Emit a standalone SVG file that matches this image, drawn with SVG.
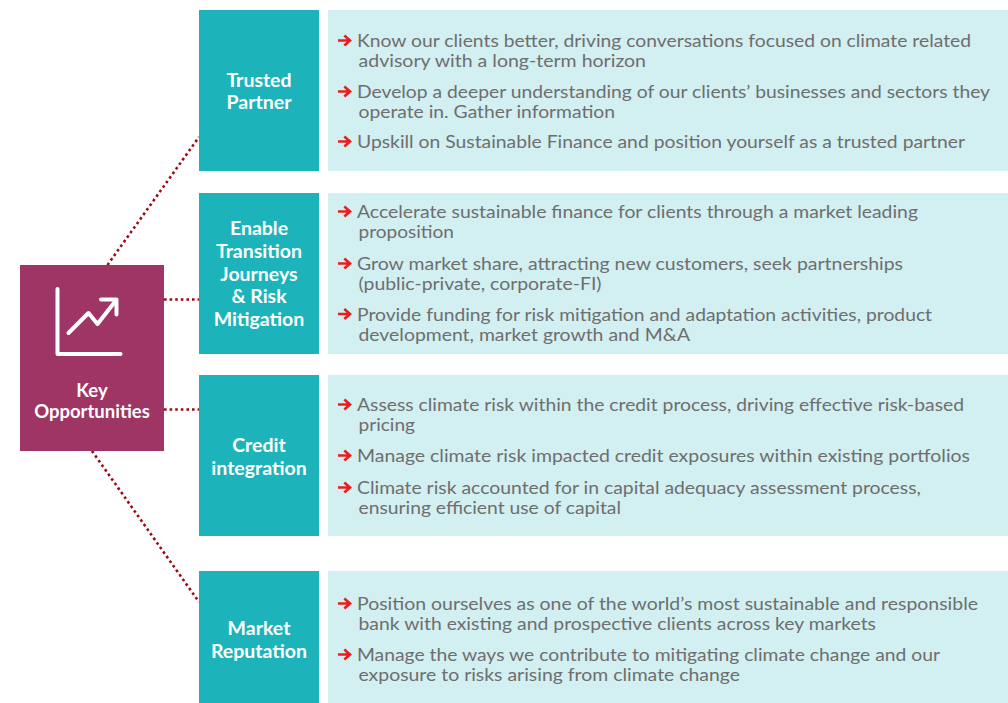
<svg xmlns="http://www.w3.org/2000/svg" xmlns:xlink="http://www.w3.org/1999/xlink" width="1008" height="703" viewBox="0 0 1008 703">
<defs>
<style>
.teal{fill:#1db3bb}
.panel{fill:#d2eff1}
.lbl{font-family:Lato,"Noto Sans","Liberation Sans",sans-serif;font-weight:bold;font-size:19.5px;fill:#ffffff;text-anchor:middle}
.txt{font-family:Lato,"Noto Sans","Liberation Sans",sans-serif;font-size:17.2px;fill:#6e6e6e}
.conn{fill:none;stroke:#9b0a12;stroke-width:2.6;stroke-dasharray:2.6 3}
.icon{fill:none;stroke:#ffffff;stroke-width:4;stroke-linecap:round;stroke-linejoin:round}
</style>
<path id="bul" d="M338,0 H349 M344.3,-5 L350,0 L344.3,5" fill="none" stroke="#ec1c1c" stroke-width="2.6" stroke-linejoin="miter"/>
</defs>
<rect width="1008" height="703" fill="#ffffff"/>

<g id="connectors">
<line class="conn" x1="107.5" y1="265" x2="199" y2="137"/>
<line class="conn" x1="164" y1="299.5" x2="199" y2="299.5"/>
<line class="conn" x1="164" y1="409.5" x2="199" y2="409.5"/>
<line class="conn" x1="92" y1="451" x2="199" y2="602"/>
</g>

<g id="key-opportunities">
<rect x="20" y="265" width="144" height="186" fill="#9e3565"/>
<path class="icon" d="M57.5,289 V354 H120.5"/>
<path class="icon" d="M68.5,333 L88.5,313 L97.5,324 L115.5,301"/>
<path class="icon" d="M101,299.5 H116.5 V314.5"/>
<text class="lbl" style="font-size:18.5px"><tspan x="92" y="396.5">Key</tspan><tspan x="92" y="417.5">Opportunities</tspan></text>
</g>

<g id="trusted-partner">
<rect class="teal" x="199" y="10" width="120" height="161"/>
<text class="lbl"><tspan x="259" y="87">Trusted</tspan><tspan x="259" y="109">Partner</tspan></text>
</g>
<g id="trusted-partner-details">
<rect class="panel" x="328" y="10" width="680" height="161"/>
<use xlink:href="#bul" y="40.5"/>
<text class="txt"><tspan x="357" y="47" textLength="614" lengthAdjust="spacingAndGlyphs">Know our clients better, driving conversations focused on climate related</tspan><tspan x="358.5" y="67" textLength="287.5" lengthAdjust="spacingAndGlyphs">advisory with a long-term horizon</tspan></text>
<use xlink:href="#bul" y="91.5"/>
<text class="txt"><tspan x="357" y="98" textLength="633" lengthAdjust="spacingAndGlyphs">Develop a deeper understanding of our clients’ businesses and sectors they</tspan><tspan x="358.5" y="118" textLength="256.5" lengthAdjust="spacingAndGlyphs">operate in. Gather information</tspan></text>
<use xlink:href="#bul" y="141.5"/>
<text class="txt" x="357" y="148" textLength="608" lengthAdjust="spacingAndGlyphs">Upskill on Sustainable Finance and position yourself as a trusted partner</text>
</g>

<g id="enable-transition">
<rect class="teal" x="199" y="193" width="120" height="161"/>
<text class="lbl"><tspan x="259" y="235">Enable</tspan><tspan x="259" y="258">Transition</tspan><tspan x="259" y="280.5">Journeys</tspan><tspan x="259" y="303">&amp; Risk</tspan><tspan x="259" y="326">Mitigation</tspan></text>
</g>
<g id="enable-transition-details">
<rect class="panel" x="328" y="193" width="680" height="161"/>
<use xlink:href="#bul" y="211.5"/>
<text class="txt"><tspan x="357" y="218" textLength="561" lengthAdjust="spacingAndGlyphs">Accelerate sustainable finance for clients through a market leading</tspan><tspan x="358.5" y="238" textLength="95.5" lengthAdjust="spacingAndGlyphs">proposition</tspan></text>
<use xlink:href="#bul" y="263.5"/>
<text class="txt"><tspan x="357" y="270" textLength="546" lengthAdjust="spacingAndGlyphs">Grow market share, attracting new customers, seek partnerships</tspan><tspan x="358.5" y="290" textLength="243" lengthAdjust="spacingAndGlyphs">(public-private, corporate-FI)</tspan></text>
<use xlink:href="#bul" y="314"/>
<text class="txt"><tspan x="357" y="320.5" textLength="575" lengthAdjust="spacingAndGlyphs">Provide funding for risk mitigation and adaptation activities, product</tspan><tspan x="358.5" y="340.5" textLength="331.5" lengthAdjust="spacingAndGlyphs">development, market growth and M&amp;A</tspan></text>
</g>

<g id="credit-integration">
<rect class="teal" x="199" y="375" width="120" height="161"/>
<text class="lbl"><tspan x="259" y="451.5">Credit</tspan><tspan x="259" y="474.5">integration</tspan></text>
</g>
<g id="credit-integration-details">
<rect class="panel" x="328" y="375" width="680" height="161"/>
<use xlink:href="#bul" y="404.5"/>
<text class="txt"><tspan x="357" y="411" textLength="607" lengthAdjust="spacingAndGlyphs">Assess climate risk within the credit process, driving effective risk-based</tspan><tspan x="358.5" y="431" textLength="56.5" lengthAdjust="spacingAndGlyphs">pricing</tspan></text>
<use xlink:href="#bul" y="455.5"/>
<text class="txt" x="357" y="462" textLength="613" lengthAdjust="spacingAndGlyphs">Manage climate risk impacted credit exposures within existing portfolios</text>
<use xlink:href="#bul" y="487.5"/>
<text class="txt"><tspan x="357" y="494" textLength="564" lengthAdjust="spacingAndGlyphs">Climate risk accounted for in capital adequacy assessment process,</tspan><tspan x="358.5" y="514" textLength="262.5" lengthAdjust="spacingAndGlyphs">ensuring efficient use of capital</tspan></text>
</g>

<g id="market-reputation">
<rect class="teal" x="199" y="571" width="120" height="132"/>
<text class="lbl"><tspan x="259" y="635">Market</tspan><tspan x="259" y="658">Reputation</tspan></text>
</g>
<g id="market-reputation-details">
<rect class="panel" x="328" y="571" width="680" height="132"/>
<use xlink:href="#bul" y="603.5"/>
<text class="txt"><tspan x="357" y="610" textLength="621" lengthAdjust="spacingAndGlyphs">Position ourselves as one of the world’s most sustainable and responsible</tspan><tspan x="358.5" y="630" textLength="517.5" lengthAdjust="spacingAndGlyphs">bank with existing and prospective clients across key markets</tspan></text>
<use xlink:href="#bul" y="654.5"/>
<text class="txt"><tspan x="357" y="661" textLength="583" lengthAdjust="spacingAndGlyphs">Manage the ways we contribute to mitigating climate change and our</tspan><tspan x="358.5" y="681" textLength="381.5" lengthAdjust="spacingAndGlyphs">exposure to risks arising from climate change</tspan></text>
</g>
</svg>
